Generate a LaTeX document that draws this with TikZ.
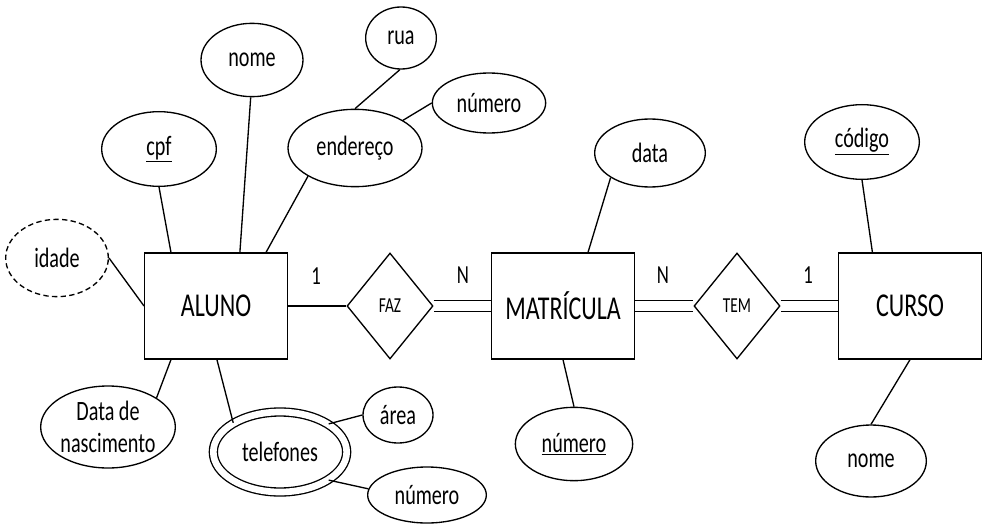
\documentclass[tikz,border=0pt]{standalone}
\usepackage{fontspec}
\setmainfont{Carlito}[FakeStretch=0.72]
\usetikzlibrary{shapes.geometric}
\tikzset{ent/.style={draw,rectangle,minimum width=107pt,minimum height=79.5pt,inner sep=0pt,font=\fontsize{25}{28}\selectfont},
  rel/.style={draw,diamond,minimum width=64.5pt,minimum height=79.5pt,inner sep=0pt,font=\fontsize{16}{18}\selectfont},
  att/.style={draw,ellipse,inner sep=0pt,align=center,font=\fontsize{21}{24}\selectfont},
  sz/.style 2 args={minimum width=#1,minimum height=#2},
  card/.style={font=\fontsize{19.5}{22}\selectfont},
  dbl/.style={double,double distance=7pt}}

\begin{document}
\begin{tikzpicture}[x=0.75pt,y=-0.75pt,line width=1pt]
          \useasboundingbox (0,0) rectangle (987,524);

          % entities and relationships
          \node[ent] (aluno) at (216,306) {ALUNO};
          \node[rel] (faz) at (390,306) {FAZ};
          \node[ent] (matr) at (563,306) {MATRÍCULA};
          \node[rel] (tem) at (737,306) {TEM};
          \node[ent] (curso) at (910,306) {CURSO};

          % attributes of ALUNO
          \node[att,sz={77pt}{58pt},dashed,dash pattern=on 4pt off 2.5pt] (idade) at (57,258) {idade};
          \node[att,sz={101pt}{61.5pt}] (dnasc) at (108,427) {Data de\\nascimento};
          \node[att,sz={100pt}{60pt},double,double distance=5pt] (tel) at (280,452) {telefones};
          \node[att,sz={76.5pt}{55pt}] (nome) at (252,60) {nome};
          \node[att,sz={86pt}{56pt}] (cpf) at (159,149) {\underline{cpf}};
          \node[att,sz={100.5pt}{58pt}] (ender) at (355,148) {endereço};
          \node[att,sz={53pt}{46.5pt}] (rua) at (401,38) {rua};
          \node[att,sz={85pt}{45pt}] (numA) at (489,103) {número};
          \node[att,sz={52.5pt}{42pt}] (area) at (398,415) {área};
          \node[att,sz={89pt}{42pt}] (numT) at (427,495) {número};

          % attributes of MATRICULA and CURSO
          \node[att,sz={83pt}{51pt}] (data) at (650,153) {data};
          \node[att,sz={88pt}{55pt}] (numM) at (574,444) {\underline{número}};
          \node[att,sz={86pt}{56pt}] (cod) at (862,142) {\underline{código}};
          \node[att,sz={83pt}{54pt}] (nomeC) at (871,461) {nome};

          % attribute links
          \draw (cpf.-90) -- (aluno.130);
          \draw (nome.-92) -- (aluno.66);
          \draw (ender.211) -- (aluno.47);
          \draw (idade.east) -- (aluno.west);
          \draw (dnasc.31) -- (aluno.230);
          \draw (tel.148) -- (aluno.-89);
          \draw (rua.-92) -- (ender.north);
          \draw (numA.west) -- (ender.30);
          \draw (area.west) -- (tel.30);
          \draw (numT.174) -- (tel.-30);
          \draw (data.212) -- (matr.65);
          \draw (numM.north) -- (matr.south);
          \draw (cod.south) -- (curso.125);
          \draw (nomeC.north) -- (curso.south);

          % relationship links + cardinalities
          \draw (aluno) -- (faz);
          \draw[dbl] (faz) -- (matr);
          \draw[dbl] (matr) -- (tem);
          \draw[dbl] (tem) -- (curso);
          \node[card] (c1) at (316,276) {1};
          \node[card] (c2) at (463,275) {N};
          \node[card] (c3) at (663,275) {N};
          \node[card] (c4) at (808,275) {1};
        \end{tikzpicture}
\end{document}
